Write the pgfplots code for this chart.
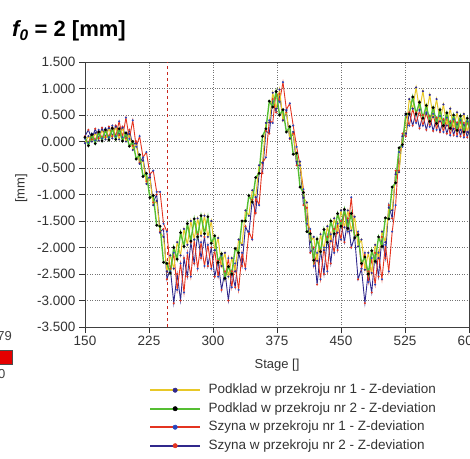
\documentclass[border=0pt]{standalone}
\usepackage{pgfplots}
\pgfplotsset{compat=1.18}
\usepackage{pgfplotstable}
\usepackage{fontspec}
\setmainfont{Liberation Sans}
\definecolor{cyel}{RGB}{232,200,40}
\definecolor{cgrn}{RGB}{85,190,50}
\definecolor{cred}{RGB}{228,52,32}
\definecolor{cnav}{RGB}{48,40,140}
\definecolor{cblu}{RGB}{40,70,190}
\definecolor{dred}{RGB}{200,40,30}

\pgfplotstableread{
x y
150 -0.03
154 0.10
158 0.00
162 0.16
166 0.02
170 0.22
174 0.04
178 0.25
182 0.06
186 0.28
190 0.04
194 0.26
198 0.00
202 0.14
206 -0.16
210 -0.04
214 -0.42
218 -0.36
222 -0.80
226 -0.68
230 -1.20
234 -1.12
238 -1.72
242 -1.80
246 -2.45
250 -2.15
254 -2.40
258 -1.90
262 -2.15
266 -1.65
270 -1.95
274 -1.50
278 -1.85
282 -1.45
286 -1.78
290 -1.40
294 -1.80
298 -1.50
302 -2.05
306 -1.82
310 -2.35
314 -2.10
318 -2.55
322 -2.20
326 -2.45
330 -1.85
334 -1.95
338 -1.30
342 -1.40
346 -0.92
350 -1.05
354 -0.45
358 -0.40
362 0.35
366 0.36
370 0.92
374 0.62
378 0.98
382 0.40
386 0.58
390 0.06
394 0.18
398 -0.38
402 -0.38
406 -1.06
410 -1.15
414 -1.90
418 -1.80
422 -2.25
426 -1.75
430 -2.05
434 -1.60
438 -1.88
442 -1.45
446 -1.72
450 -1.30
454 -1.62
458 -1.30
462 -1.68
466 -1.42
470 -1.98
474 -1.85
478 -2.42
482 -2.10
486 -2.48
490 -1.95
494 -2.20
498 -1.70
502 -1.90
506 -1.25
510 -1.30
514 -0.62
518 -0.58
522 0.10
526 0.15
530 0.80
534 0.62
538 1.02
542 0.60
546 0.95
550 0.52
554 0.88
558 0.46
562 0.80
566 0.38
570 0.70
574 0.30
578 0.62
582 0.24
586 0.55
590 0.22
594 0.52
598 0.18
602 0.48
}\yellowdata

\pgfplotstableread{
x y
150 0.08
154 -0.08
158 0.13
162 -0.04
166 0.18
170 0.01
174 0.22
178 0.03
182 0.25
186 0.04
190 0.24
194 0.01
198 0.16
202 -0.09
206 0.00
210 -0.33
214 -0.25
218 -0.66
222 -0.60
226 -1.06
230 -1.02
234 -1.58
238 -1.60
242 -2.28
246 -2.30
250 -2.48
254 -2.00
258 -2.22
262 -1.72
266 -1.98
270 -1.55
274 -1.88
278 -1.46
282 -1.80
286 -1.40
290 -1.74
294 -1.42
298 -1.92
302 -1.78
306 -2.28
310 -2.12
314 -2.58
318 -2.36
322 -2.50
326 -2.02
330 -2.10
334 -1.50
338 -1.50
342 -1.02
346 -1.14
350 -0.68
354 -0.60
358 0.10
362 0.24
366 0.76
370 0.65
374 0.94
378 0.50
382 0.60
386 0.18
390 0.28
394 -0.24
398 -0.22
402 -0.86
406 -0.96
410 -1.70
414 -1.74
418 -2.24
422 -1.84
426 -2.08
430 -1.66
434 -1.90
438 -1.50
442 -1.74
446 -1.36
450 -1.60
454 -1.28
458 -1.64
462 -1.36
466 -1.82
470 -1.76
474 -2.30
478 -2.18
482 -2.50
486 -2.06
490 -2.26
494 -1.80
498 -1.98
502 -1.44
506 -1.46
510 -0.86
514 -0.78
518 -0.12
522 -0.06
526 0.52
530 0.52
534 0.84
538 0.52
542 0.74
546 0.44
550 0.68
554 0.38
558 0.64
562 0.34
566 0.60
570 0.30
574 0.54
578 0.25
582 0.50
586 0.21
590 0.48
594 0.18
598 0.44
602 0.16
}\greendata

\pgfplotstableread{
x y
150 0.05
154 -0.02
158 0.15
162 0.02
166 0.22
170 0.06
174 0.25
178 0.08
182 0.30
186 0.10
190 0.38
194 0.08
198 0.45
202 0.05
206 0.40
210 -0.10
214 0.10
218 -0.30
222 -0.20
226 -0.62
230 -0.55
234 -0.95
238 -0.95
242 -1.55
246 -1.70
250 -2.45
254 -2.10
258 -2.80
262 -2.30
266 -2.85
270 -2.10
274 -2.55
278 -1.85
282 -2.40
286 -1.90
290 -2.35
294 -1.95
298 -2.40
302 -2.05
306 -2.55
310 -2.15
314 -2.60
318 -2.20
322 -2.75
326 -2.30
330 -2.80
334 -2.10
338 -2.40
342 -1.70
346 -1.85
350 -1.05
354 -1.20
358 -0.40
362 -0.30
366 0.40
370 0.35
374 0.95
378 0.75
382 1.12
386 0.60
390 0.72
394 0.30
398 -0.10
402 -0.45
406 -0.90
410 -1.55
414 -1.65
418 -2.35
422 -2.10
426 -2.60
430 -2.00
434 -2.45
438 -1.75
442 -2.10
446 -1.55
450 -1.85
454 -1.30
458 -1.70
462 -1.05
466 -1.80
470 -1.70
474 -2.40
478 -2.10
482 -2.65
486 -2.20
490 -2.70
494 -2.10
498 -2.60
502 -1.95
506 -2.45
510 -1.70
514 -1.20
518 -0.20
522 -0.10
526 0.50
530 0.30
534 0.62
538 0.35
542 0.58
546 0.30
550 0.55
554 0.28
558 0.52
562 0.22
566 0.48
570 0.18
574 0.45
578 0.12
582 0.42
586 0.10
590 0.40
594 0.08
598 0.38
602 0.10
}\reddata

\pgfplotstableread{
x y
150 0.10
154 0.22
158 0.04
162 0.24
166 0.06
170 0.26
174 0.08
178 0.28
182 0.10
186 0.30
190 0.12
194 0.28
198 0.06
202 0.22
206 -0.08
210 0.00
214 -0.40
218 -0.30
222 -0.75
226 -0.65
230 -1.15
234 -1.00
238 -1.70
242 -1.65
246 -2.60
250 -2.40
254 -3.05
258 -2.50
262 -3.00
266 -2.20
270 -2.55
274 -1.90
278 -2.30
282 -1.75
286 -2.20
290 -1.80
294 -2.35
298 -2.00
302 -2.55
306 -2.25
310 -2.80
314 -2.45
318 -3.00
322 -2.45
326 -2.75
330 -2.10
334 -2.35
338 -1.60
342 -1.75
346 -1.10
350 -1.35
354 -0.60
358 -0.60
362 0.20
366 0.15
370 0.80
374 0.55
378 0.90
382 0.40
386 0.55
390 0.05
394 0.15
398 -0.45
402 -0.45
406 -1.20
410 -1.25
414 -2.10
418 -2.00
422 -2.70
426 -2.05
430 -2.50
434 -1.80
438 -2.30
442 -1.65
446 -2.05
450 -1.50
454 -1.90
458 -1.45
462 -2.00
466 -1.80
470 -2.60
474 -2.40
478 -3.05
482 -2.45
486 -2.85
490 -2.10
494 -2.55
498 -1.80
502 -2.20
506 -1.20
510 -1.45
514 -0.55
518 -0.55
522 0.15
526 0.10
530 0.55
534 0.30
538 0.55
542 0.25
546 0.50
550 0.22
554 0.48
558 0.20
562 0.45
566 0.18
570 0.42
574 0.15
578 0.38
582 0.12
586 0.36
590 0.10
594 0.35
598 0.08
602 0.32
}\navydata

\begin{document}
\begin{tikzpicture}
% title
\node[anchor=base west, inner sep=0pt, font=\fontsize{22}{26}\selectfont\bfseries] at (12pt,421pt)
  {\itshape f\textsubscript{0}\upshape{} = 2 [mm]};
% fragments of neighbouring colour scale
\node[anchor=base east, inner sep=0pt, font=\fontsize{13}{15}\selectfont, text=black!75] at (12pt,118pt) {79};
\draw[black!70, fill=red!90!black] (-3pt,94pt) rectangle (12pt,108pt);
\node[anchor=base west, inner sep=0pt, font=\fontsize{13}{15}\selectfont, text=black!75] at (-2pt,80pt) {0};
\begin{axis}[
  at={(85pt,131pt)}, anchor=south west,
  scale only axis, width=384pt, height=265pt,
  xmin=150, xmax=600, ymin=-3.5, ymax=1.5,
  xtick={150,225,300,375,450,525,600},
  xticklabels={150,225,300,375,450,525,600},
  ytick={-3.5,-3,-2.5,-2,-1.5,-1,-0.5,0,0.5,1,1.5},
  yticklabels={-3.500,-3.000,-2.500,-2.000,-1.500,-1.000,-0.500,0.000,0.500,1.000,1.500},
  tick align=outside, major tick length=6pt,
  tick style={black!80, line width=0.8pt},
  xtick pos=bottom, ytick pos=left,
  grid=major,
  major grid style={black!55, dotted, line width=0.6pt},
  axis line style={black!75, line width=0.8pt},
  ticklabel style={font=\fontsize{13.5}{16}\selectfont, text=black!80},
  xlabel={Stage []}, ylabel={[mm]},
  label style={font=\fontsize{13}{16}\selectfont, text=black!80},
  xlabel style={yshift=-6pt},
  ylabel style={yshift=3pt, xshift=6pt},
  legend style={at={(0.159,-0.2)}, anchor=north west, draw=none, fill=none,
     font=\fontsize{13.5}{16}\selectfont, text=black!80,
     nodes={inner sep=1.5pt, text height=10pt, text depth=3pt},
     row sep=2.5pt,
     /tikz/every odd column/.append style={column sep=6pt}},
  legend cell align=left,
  legend image code/.code={\draw[#1, line width=1.8pt, mark repeat=2, mark phase=2] plot coordinates {(0pt,0pt) (25pt,0pt) (50pt,0pt)};},
]
\addlegendimage{cyel, mark=*, mark size=2.2pt, mark options={fill=cnav, draw=cnav, line width=0.5pt}}
\addlegendentry{Podklad w przekroju nr 1 - Z-deviation}
\addlegendimage{cgrn, mark=*, mark size=2.2pt, mark options={fill=black, draw=black, line width=0.5pt}}
\addlegendentry{Podklad w przekroju nr 2 - Z-deviation}
\addlegendimage{cred, mark=*, mark size=2.2pt, mark options={fill=cblu, draw=cblu, line width=0.5pt}}
\addlegendentry{Szyna w przekroju nr 1 - Z-deviation}
\addlegendimage{cnav, mark=*, mark size=2.2pt, mark options={fill=cred, draw=cred, line width=0.5pt}}
\addlegendentry{Szyna w przekroju nr 2 - Z-deviation}

\addplot[dred, dashed, line width=0.6pt, forget plot] coordinates {(247,-3.5) (247,1.5)};
\addplot[cnav, line width=0.9pt, mark=*, mark size=0.5pt, mark options={fill=cred, draw=cred}, forget plot] table {\navydata};
\addplot[cred, line width=0.9pt, mark=*, mark size=0.5pt, mark options={fill=cblu, draw=cblu}, forget plot] table {\reddata};
\addplot[cyel, line width=1pt, mark=*, mark size=0.5pt, mark options={fill=cnav, draw=cnav}, forget plot] table {\yellowdata};
\addplot[cgrn, line width=1.4pt, mark=*, mark size=0.6pt, mark options={fill=black, draw=black}, forget plot] table {\greendata};
\end{axis}
\pgfresetboundingbox
\path[use as bounding box] (0pt,0pt) rectangle (470pt,458pt);
\end{tikzpicture}
\end{document}
